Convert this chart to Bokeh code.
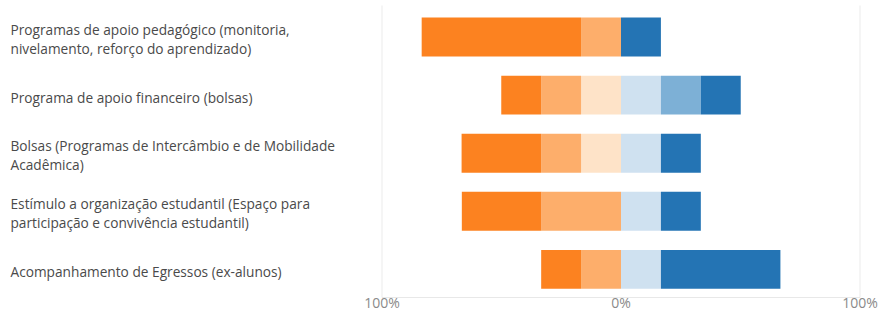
from bokeh.plotting import figure
from bokeh.models import Range1d
from bokeh.core.properties import value
from bokeh.embed import file_html
from bokeh.resources import INLINE
import numpy as np

categories = [
    "Programas de apoio pedagógico (monitoria,\nnivelamento, reforço do aprendizado)",
    "Programa de apoio financeiro (bolsas)",
    "Bolsas (Programas de Intercâmbio e de Mobilidade\nAcadêmica)",
    "Estímulo a organização estudantil (Espaço para\nparticipação e convivência estudantil)",
    "Acompanhamento de Egressos (ex-alunos)",
]

# percentages per response level (share of 6 answers)
neg3 = [66.7, 16.7, 33.3, 33.3, 16.7]   # dark orange
neg2 = [16.7, 16.7, 16.7, 33.3, 16.7]   # light orange
neg1 = [0.0, 16.7, 16.7, 0.0, 0.0]      # peach
pos1 = [0.0, 16.7, 16.7, 16.7, 16.7]    # light blue
pos2 = [0.0, 16.7, 0.0, 0.0, 0.0]       # mid blue
pos3 = [16.7, 16.7, 16.7, 16.7, 50.0]   # dark blue

tick_values = [-100, 0, 100]
tick_labels = ["100%", "0%", "100%"]
grid_values = [-100, 100]

colors = ["#fc8220", "#fdae6b", "#fee3c8", "#cfe1f0", "#7db0d6", "#2474b4"]

W, H = 880, 311
px_per_unit = 2.39
left_grid_px = 381.5
row_px = 58.1
first_row_px = 36.5

x0 = -100 - left_grid_px / px_per_unit
x1 = x0 + W / px_per_unit
y_top = -first_row_px / row_px
y_bot = (H - first_row_px) / row_px

def ypx(py):
    return (py - first_row_px) / row_px

p = figure(width=W, height=H, output_backend="svg", toolbar_location=None,
           x_range=Range1d(x0, x1), y_range=Range1d(y_bot, y_top),
           min_border_left=0, min_border_right=0, min_border_top=0, min_border_bottom=0)
p.outline_line_color = None
p.xaxis.visible = False
p.yaxis.visible = False
p.xgrid.visible = False
p.ygrid.visible = False

axis_y = ypx(297)
grid_top = ypx(5)

# gridlines and baseline
p.segment(x0=grid_values, x1=grid_values, y0=[grid_top] * len(grid_values),
          y1=[axis_y] * len(grid_values), line_color="#ebebeb", line_width=1)
p.segment(x0=[tick_values[0]], x1=[tick_values[-1]], y0=[axis_y], y1=[axis_y],
          line_color="#e8e8e8", line_width=1)

rows = np.arange(len(categories))
negs = [np.array(neg1), np.array(neg2), np.array(neg3)]
neg_cols = [colors[2], colors[1], colors[0]]
start = np.zeros(len(categories))
for vals, c in zip(negs, neg_cols):
    p.hbar(y=rows, left=-(start + vals), right=-start, height=0.67, color=c, line_color=None)
    start = start + vals
poss = [np.array(pos1), np.array(pos2), np.array(pos3)]
pos_cols = [colors[3], colors[4], colors[5]]
start = np.zeros(len(categories))
for vals, c in zip(poss, pos_cols):
    p.hbar(y=rows, left=start, right=start + vals, height=0.67, color=c, line_color=None)
    start = start + vals

# category labels (left aligned)
lx, ly, lt = [], [], []
half = 9.5 / row_px
for i, cat in enumerate(categories):
    lines = cat.split("\n")
    offs = [0.0] if len(lines) == 1 else [-half, half]
    for ln, o in zip(lines, offs):
        lx.append(x0 + 10 / px_per_unit)
        ly.append(i + o + 2 / row_px)
        lt.append(ln)
p.text(x=lx, y=ly, text=lt, text_font=value("Open Sans"), text_font_size="13.7px",
       text_color="#4a4a4a", text_baseline="middle", text_align="left")

# tick labels
p.text(x=tick_values, y=[ypx(302)] * len(tick_values), text=tick_labels,
       text_font=value("Open Sans"), text_font_size="14px", text_color="#8a8a8a",
       text_baseline="middle", text_align="center")

open("out.html", "w").write(file_html(p, INLINE))
